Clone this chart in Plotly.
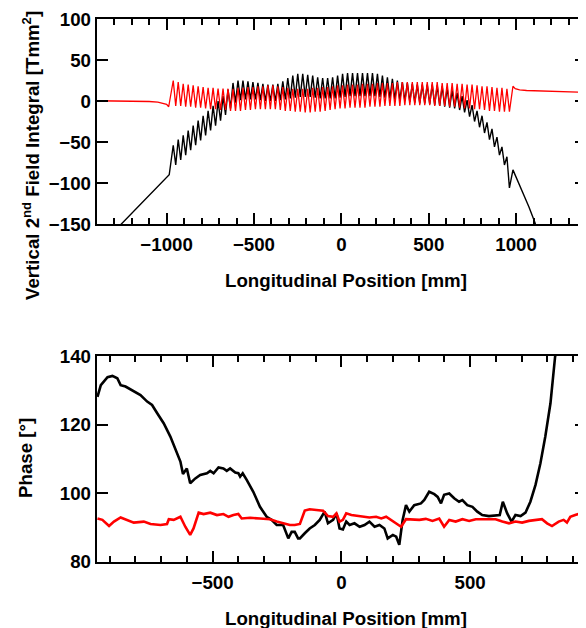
import plotly.graph_objects as go

# ---- upper panel: vertical 2nd field integral [Tmm^2] vs longitudinal position [mm]
# the wiggle region: one value per undulator period (peak then trough)
WIGGLE_START = -962.0   # mm, first peak
WIGGLE_PERIOD = 28.5    # mm

red_hi = [25, 23, 21, 20, 19, 18, 17, 16, 16, 15,
          15, 15, 15, 16, 16, 17, 17, 18, 18, 19,
          19, 18, 17, 16, 15, 15, 15, 15, 16, 16,
          17, 17, 18, 19, 19, 20, 20, 20, 21, 21,
          21, 22, 22, 22, 22, 23, 23, 23, 23, 23,
          23, 23, 23, 23, 22, 22, 22, 21, 21, 20,
          20, 19, 18, 18, 17, 16, 16, 15]
red_lo = [-6, -6, -7, -7, -8, -8, -9, -10, -10, -11,
          -11, -12, -12, -12, -11, -11, -10, -10, -10, -10,
          -10, -11, -12, -12, -13, -13, -14, -14, -13, -13,
          -12, -11, -10, -9, -9, -8, -8, -8, -8, -7,
          -7, -7, -6, -6, -6, -6, -5, -5, -5, -5,
          -5, -5, -6, -6, -6, -7, -7, -8, -9, -9,
          -10, -10, -11, -12, -12, -13, -13, -13]
blk_hi = [-54, -47, -42, -36, -30, -24, -18, -12, -6, 0,
          6, 14, 22, 25, 25, 24, 23, 22, 21, 20,
          20, 21, 24, 28, 31, 33, 33, 32, 31, 29,
          28, 28, 29, 31, 33, 34, 34, 34, 34, 34,
          34, 33, 31, 29, 27, 25, 23, 22, 21, 20,
          20, 20, 20, 19, 18, 16, 13, 10, 6, 1,
          -5, -12, -18, -26, -34, -44, -56, -68]
blk_lo = [-78, -72, -66, -60, -54, -48, -42, -36, -30, -24,
          -17, -9, -2, 1, 2, 2, 2, 1, 0, 0,
          0, 1, 2, 3, 4, 5, 5, 5, 4, 3,
          3, 3, 3, 4, 5, 6, 6, 6, 6, 6,
          6, 5, 4, 3, 2, 1, 0, -1, -2, -3,
          -3, -4, -5, -6, -7, -8, -9, -11, -14, -19,
          -25, -32, -39, -47, -56, -66, -78, -106]

# outside the undulator
red_in_x = [-1400, -1300, -1200, -1100, -1050, -1020, -1000, -988]
red_in_y = [0.3, 0.2, 0, -0.6, -1.3, -2.5, -4, -7]
red_out_x = [982, 995, 1020, 1060, 1120, 1200, 1300, 1400]
red_out_y = [18, 15, 13.5, 12.8, 12.3, 11.8, 11.2, 10.5]
blk_in_x = [-1300, -1200, -1100, -1000, -985]
blk_in_y = [-159, -137, -115, -93, -90]
blk_out_x = [982, 1030, 1073, 1111, 1160]
blk_out_y = [-84, -107, -129, -150, -172]

# ---- lower panel: phase [deg]
ph_blk_x = [-947, -934, -908, -889, -870, -857, -838, -806, -780, -754, -735, -715, -690, -664,
            -638, -625, -615, -606, -600, -587, -567, -548, -522, -509, -496, -477, -458, -445,
            -432, -412, -400, -393, -383, -367, -342, -316, -290, -271, -251, -226, -206, -193,
            -181, -168, -161, -142, -123, -103, -84, -65, -52, -32, -19, -7, 6, 19, 32, 51,
            71, 90, 109, 129, 148, 167, 180, 200, 213, 225, 238, 251, 264, 283, 309, 322,
            341, 361, 374, 387, 399, 419, 438, 457, 470, 489, 509, 528, 547, 573, 599, 615,
            627, 644, 661, 676, 696, 715, 734, 754, 773, 792, 812, 824, 830, 840]
ph_blk_y = [128.1, 131.5, 133.8, 134.2, 133.5, 131.5, 131.1, 129.8, 128.6, 126.7, 125.7, 123.3, 120.4, 116.5,
            111.6, 109.2, 105.6, 106.7, 107.2, 102.9, 104.3, 105.3, 105.8, 106.5, 105.8, 107.5, 107.2, 106.5,
            107.2, 106.0, 105.8, 104.8, 105.8, 103.8, 100.4, 96.0, 93.1, 92.2, 90.7, 90.7, 86.8, 88.7,
            88.7, 86.8, 86.8, 88.3, 89.7, 90.7, 92.2, 94.6, 91.2, 92.2, 94.1, 89.7, 89.4, 91.7, 90.7, 91.2,
            90.2, 90.7, 91.7, 90.2, 90.7, 89.7, 86.8, 87.8, 87.3, 84.9, 92.2, 96.5, 94.6, 96.5, 97.0, 98.0,
            100.4, 99.7, 98.9, 97.0, 99.5, 99.9, 98.5, 97.5, 98.0, 96.5, 96.0, 94.6, 93.6, 93.3, 93.6, 93.6,
            97.5, 94.1, 91.7, 93.6, 93.3, 94.3, 97.5, 102.4, 108.7, 116.5, 126.2, 135.9, 139.8, 143]
ph_red_x = [-947, -928, -902, -883, -857, -831, -806, -767, -741, -702, -677, -670, -651, -625,
            -606, -587, -574, -554, -535, -509, -483, -458, -438, -419, -400, -387, -354, -316,
            -277, -251, -226, -200, -181, -161, -142, -123, -97, -71, -52, -32, -19, -7, 6, 19,
            39, 71, 109, 135, 155, 174, 193, 213, 232, 251, 277, 303, 328, 354, 380, 399,
            419, 444, 470, 496, 522, 547, 573, 599, 625, 651, 676, 702, 728, 754, 779, 799,
            818, 844, 863, 876, 889, 908, 928, 944]
ph_red_y = [92.6, 92.2, 90.4, 91.7, 92.9, 92.2, 91.4, 91.7, 91.0, 90.7, 91.0, 92.4, 92.2, 93.1,
            90.2, 87.8, 89.7, 94.3, 93.9, 94.3, 93.6, 93.9, 93.1, 93.6, 93.9, 92.6, 92.8, 92.6,
            92.4, 91.7, 91.2, 90.7, 90.7, 91.0, 94.9, 95.3, 95.1, 94.9, 93.3, 93.1, 94.1, 91.7, 92.2, 94.1,
            93.6, 93.3, 92.9, 93.1, 92.6, 93.1, 92.2, 91.0, 90.2, 92.4, 92.4, 92.2, 92.5, 91.9, 92.6, 90.2,
            92.2, 91.7, 92.4, 91.9, 92.4, 92.4, 92.2, 92.4, 91.7, 91.2, 91.7, 91.4, 91.9, 92.2, 92.4, 91.2,
            90.4, 91.7, 92.2, 91.4, 93.1, 93.6, 94.1, 93.9]


def wiggle(hi, lo):
    # peak at each period start, trough half a period later
    xs, ys = [], []
    for k in range(len(hi)):
        xs += [WIGGLE_START + k * WIGGLE_PERIOD, WIGGLE_START + (k + 0.5) * WIGGLE_PERIOD]
        ys += [hi[k], lo[k]]
    return xs, ys


bx, by = wiggle(blk_hi, blk_lo)
rx, ry = wiggle(red_hi, red_lo)

FONT = "Liberation Sans, Arial, sans-serif"
FS = 18.7
W, H = 586, 628
PAD = 8  # page body margin, everything is placed 8px up/left to compensate


def px_x(v):
    return (v - PAD) / W


def px_y(v):
    return 1 - (v - PAD) / H


fig = go.Figure()
fig.add_trace(go.Scatter(x=blk_in_x + bx + blk_out_x, y=blk_in_y + by + blk_out_y,
                         mode="lines", line=dict(color="black", width=1.4),
                         xaxis="x", yaxis="y", showlegend=False))
fig.add_trace(go.Scatter(x=red_in_x + rx + red_out_x, y=red_in_y + ry + red_out_y,
                         mode="lines", line=dict(color="#ff0000", width=1.3),
                         xaxis="x", yaxis="y", showlegend=False))
fig.add_trace(go.Scatter(x=ph_blk_x, y=ph_blk_y, mode="lines",
                         line=dict(color="black", width=2.6),
                         xaxis="x2", yaxis="y2", showlegend=False))
fig.add_trace(go.Scatter(x=ph_red_x, y=ph_red_y, mode="lines",
                         line=dict(color="#ff0000", width=2.6),
                         xaxis="x2", yaxis="y2", showlegend=False))

ax = dict(showline=True, linecolor="black", linewidth=2, mirror="ticks",
          ticks="inside", ticklen=11, tickwidth=2, tickcolor="black",
          showgrid=False, zeroline=False, automargin=False,
          tickfont=dict(family=FONT, size=FS, color="black", weight="bold"))
minor = dict(ticks="inside", ticklen=6, tickwidth=2, tickcolor="black", dtick=100, tick0=0)

xdom = [px_x(96.7), px_x(586)]
fig.update_layout(
    template="none",
    width=W, height=H,
    margin=dict(l=0, r=0, t=0, b=0),
    paper_bgcolor="white", plot_bgcolor="white",
    xaxis=dict(ax, domain=xdom, range=[-1400, 1400], dtick=500, tick0=0,
               minor=minor, anchor="y", ticklabelstandoff=3),
    yaxis=dict(ax, domain=[px_y(224), px_y(19)], range=[-150, 100], dtick=50, anchor="x"),
    xaxis2=dict(ax, domain=xdom, range=[-950, 950], dtick=500, tick0=0,
                minor=minor, anchor="y2", ticklabelstandoff=3),
    yaxis2=dict(ax, domain=[px_y(561.7), px_y(356)], range=[80, 140], dtick=20, anchor="x2"),
)

title_font = dict(family=FONT, size=FS, color="black", weight="bold")
for ty in (280, 618):
    fig.add_annotation(text="Longitudinal Position [mm]", x=px_x(346), y=px_y(ty),
                       xref="paper", yref="paper", xanchor="center", yanchor="middle",
                       showarrow=False, font=title_font)
fig.add_annotation(text="Vertical 2<sup>nd</sup> Field Integral [Tmm<sup>2</sup>]",
                   x=px_x(31), y=px_y(156), xref="paper", yref="paper",
                   xanchor="center", yanchor="middle",
                   showarrow=False, textangle=-90, font=title_font)
fig.add_annotation(text="Phase [°]", x=px_x(26), y=px_y(458),
                   xref="paper", yref="paper", xanchor="center", yanchor="middle",
                   showarrow=False, textangle=-90, font=title_font)

fig.write_html("out.html")
